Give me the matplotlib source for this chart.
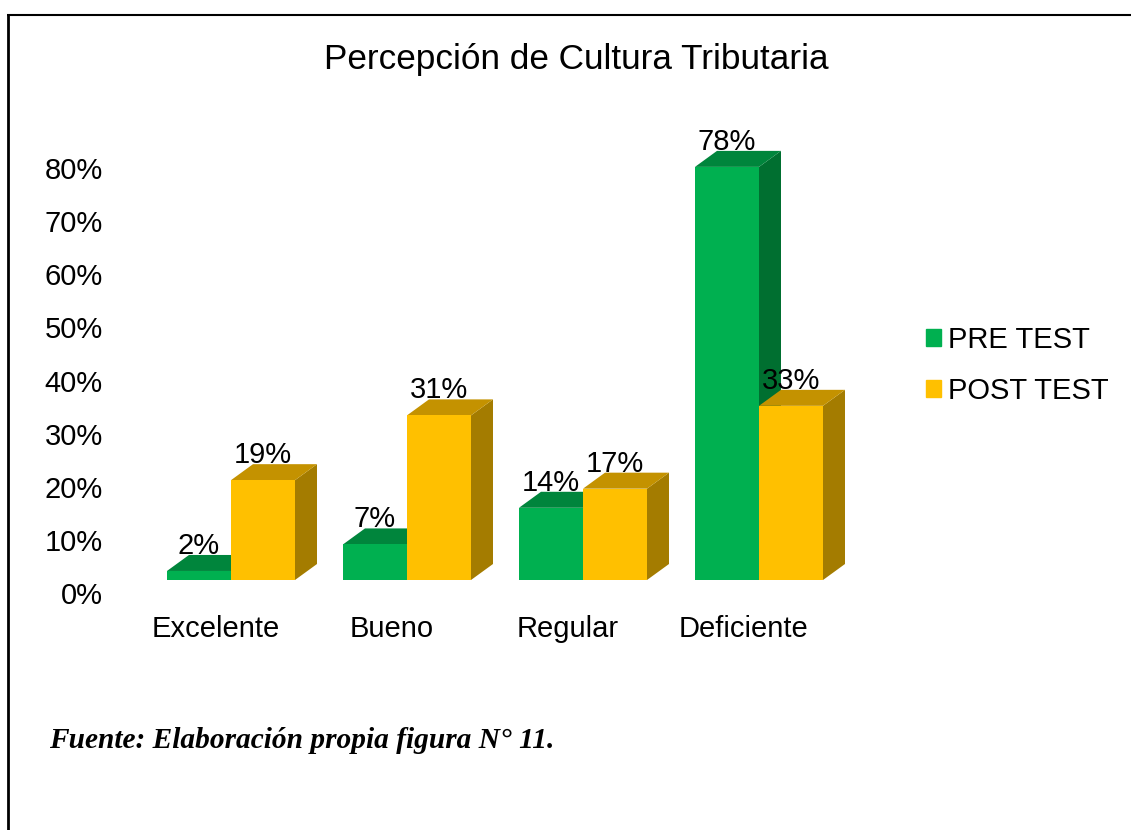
import matplotlib
matplotlib.use('Agg')
import matplotlib.pyplot as plt
from matplotlib.lines import Line2D
from matplotlib.patches import Patch, Polygon
from matplotlib.transforms import ScaledTranslation

categories = ['Excelente', 'Bueno', 'Regular', 'Deficiente']
pre_test = [1.7, 6.7, 13.6, 77.8]
post_test = [18.8, 31.0, 17.2, 32.8]
pre_labels = ['2%', '7%', '14%', '78%']
post_labels = ['19%', '31%', '17%', '33%']
y_ticks = [0, 10, 20, 30, 40, 50, 60, 70, 80]

W, H = 1131, 830
plt.rcParams['font.family'] = ['Liberation Sans', 'DejaVu Sans']

GREEN = ('#00B050', '#00853C', '#006F30')
ORANGE = ('#FFC000', '#C49200', '#A47C00')
BAR_W = 64 / 176
DX = 22 / 176
DY = 16 / 5.31
FS = 21


def px(dx, dy=0):
    return ScaledTranslation(dx / 100, dy / 100, fig.dpi_scale_trans)


def draw_bar(ax, x, value, colors, label):
    left, right = x - BAR_W / 2, x + BAR_W / 2
    ax.add_patch(Polygon([(right, 0), (right + DX, DY), (right + DX, value + DY), (right, value)],
                         facecolor=colors[2], edgecolor='none', clip_on=False))
    ax.add_patch(Polygon([(left, value), (left + DX, value + DY), (right + DX, value + DY), (right, value)],
                         facecolor=colors[1], edgecolor='none', clip_on=False))
    ax.bar(x, value, BAR_W, color=colors[0], clip_on=False)
    ax.annotate(label, (x, value), xytext=(0, 17), textcoords='offset pixels',
                ha='center', va='baseline', fontsize=FS, zorder=10)


fig = plt.figure(figsize=(W / 100, H / 100), dpi=100)
ax = fig.add_axes([143 / W, (H - 580) / H, 704 / W, 440 / H])
ax.set_xlim(-0.5, 3.5)
ax.set_ylim(0, 440 / 5.31)
ax.patch.set_alpha(0)
for s in ax.spines.values():
    s.set_visible(False)

for i in range(len(categories)):
    draw_bar(ax, i - BAR_W / 2, pre_test[i], GREEN, pre_labels[i])
    draw_bar(ax, i + BAR_W / 2, post_test[i], ORANGE, post_labels[i])

ax.set_yticks(y_ticks)
ax.set_yticklabels(['{}%'.format(v) for v in y_ticks], fontsize=FS)
ax.set_xticks(range(len(categories)))
ax.set_xticklabels(categories, fontsize=FS)
ax.tick_params(length=0)
ax.tick_params(axis='y', pad=29)
ax.tick_params(axis='x', pad=25.5)
for lab in ax.get_yticklabels():
    lab.set_transform(lab.get_transform() + px(0, -13))
for lab in ax.get_xticklabels():
    lab.set_transform(lab.get_transform() + px(-15.5))

fig.text(576 / W, (H - 59) / H, 'Percepción de Cultura Tributaria', fontsize=25.3,
         ha='center', va='center')
fig.text(49 / W, (H - 748) / H, 'Fuente: Elaboración propia figura N° 11.', fontsize=21.2,
         family=['Liberation Serif'], weight='bold', style='italic', ha='left', va='baseline')

handles = [Patch(color=GREEN[0], label='PRE TEST'), Patch(color=ORANGE[0], label='POST TEST')]
fig.legend(handles=handles, loc='center left', bbox_to_anchor=(926 / W, (H - 365.5) / H), frameon=False,
           fontsize=FS, handlelength=0.51, handleheight=0.51, handletextpad=0.25,
           labelspacing=0.78, borderpad=0, borderaxespad=0)

# frame of the page
fig.add_artist(Line2D([8 / W, 8 / W], [0, (H - 15) / H], color='black', lw=2.0, solid_capstyle='butt'))
fig.add_artist(Line2D([7 / W, 1], [(H - 15) / H, (H - 15) / H], color='black', lw=1.5, solid_capstyle='butt'))

fig.savefig('out.png', dpi=100)
